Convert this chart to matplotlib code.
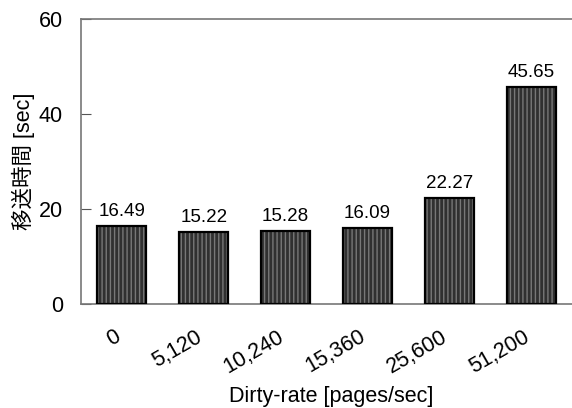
import matplotlib
matplotlib.use("Agg")
import matplotlib.pyplot as plt
import matplotlib.transforms as mtransforms
import numpy as np

categories = ["0", "5,120", "10,240", "15,360", "25,600", "51,200"]
values = [16.49, 15.22, 15.28, 16.09, 22.27, 45.65]
value_labels = ["16.49", "15.22", "15.28", "16.09", "22.27", "45.65"]
yticks = [0, 20, 40, 60]

plt.rcParams['font.family'] = ['Liberation Sans', 'Noto Sans CJK JP', 'DejaVu Sans']
plt.rcParams['hatch.linewidth'] = 1.0

fig = plt.figure(figsize=(5.72, 4.08), dpi=100)
ax = fig.add_axes([81/572, 1-304/408, 1-81/572, (304-19)/408])

x = np.arange(len(categories))
ax.bar(x, values, width=0.6, color='#303030', edgecolor='#777777', hatch='||||', linewidth=0, zorder=2)
ax.bar(x, values, width=0.6, fill=False, edgecolor='black', linewidth=1.6, zorder=3)

for xi, v, lab in zip(x, values, value_labels):
    ax.text(xi, v + 2.1, lab, ha='center', va='baseline', fontsize=13.5)

ax.set_xlim(-0.5, 5.5)
ax.set_ylim(0, 60)
ax.set_yticks(yticks)
ax.set_yticklabels([str(t) for t in yticks], fontsize=15.5)
ax.tick_params(axis='y', direction='in', length=7, color='#555555', pad=13)
ax.set_xticks(x)
ax.set_xticklabels(categories, fontsize=15.5, rotation=30, ha='right', rotation_mode='anchor')
ax.tick_params(axis='x', length=0, pad=16)
offset = mtransforms.ScaledTranslation(-6/72, 0, fig.dpi_scale_trans)
for lbl in ax.get_xticklabels():
    lbl.set_transform(lbl.get_transform() + offset)

for s in ['left', 'bottom', 'top']:
    ax.spines[s].set_color('#777777')
    ax.spines[s].set_linewidth(1.2)
ax.spines['right'].set_visible(False)

ax.set_ylabel('移送時間 [sec]', fontsize=15.5, labelpad=3)
ax.set_xlabel('Dirty-rate [pages/sec]', fontsize=15.5)
ax.xaxis.set_label_coords(0.51, -0.286)

fig.savefig('out.png', dpi=100)
